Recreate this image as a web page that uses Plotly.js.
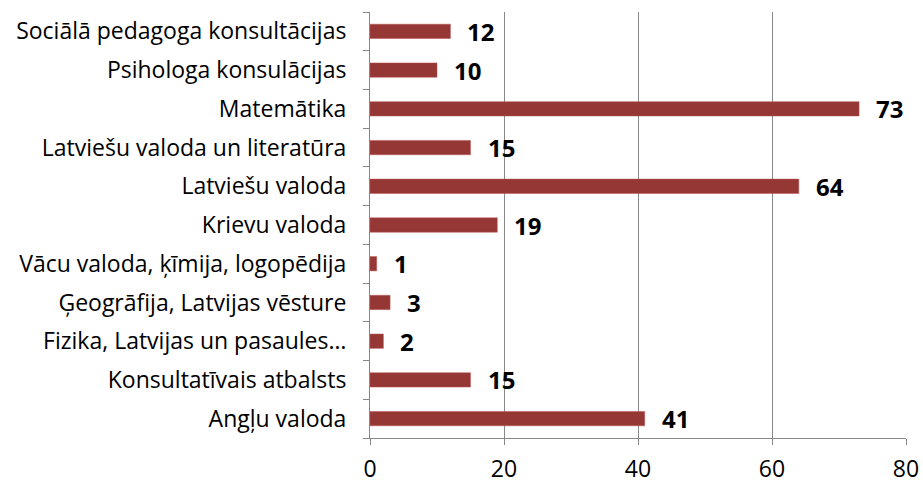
<!DOCTYPE html>
<html><head><meta charset="utf-8">
<script src="https://cdn.plot.ly/plotly-3.0.1.min.js"></script>
<style>body{margin:0;background:#fff}#chart{width:923px;height:484px}</style>
</head><body><div id="chart"></div>
<script>
const categories = ["Angļu valoda","Konsultatīvais atbalsts","Fizika, Latvijas un pasaules…","Ģeogrāfija, Latvijas vēsture","Vācu valoda, ķīmija, logopēdija","Krievu valoda","Latviešu valoda","Latviešu valoda un literatūra","Matemātika","Psihologa konsulācijas","Sociālā pedagoga konsultācijas"];
const values = [41,15,2,3,1,19,64,15,73,10,12];
const xTicks = [0,20,40,60,80];

const font = "'Open Sans', sans-serif";
const trace = {type:'bar', orientation:'h', x:values, y:categories,
  marker:{color:'#953735', line:{color:'#b85450', width:0.5}}, hoverinfo:'none'};
const annotations = categories.map((c,i)=>({x:values[i], y:c, text:String(values[i]), showarrow:false,
  xanchor:'left', xshift:15, yshift:0, font:{family:font, size:24, color:'#000', weight:'bold'}}));
const layout = {
  width:923, height:484, margin:{l:370, r:17, t:12, b:46},
  paper_bgcolor:'#fff', plot_bgcolor:'#fff', showlegend:false, bargap:0.63,
  font:{family:font, color:'#000'},
  xaxis:{range:[0,80], tickvals:xTicks, ticktext:xTicks.map(String), showgrid:true, gridcolor:'#888', gridwidth:1,
    zeroline:false, showline:true, linecolor:'#888', ticks:'outside', ticklen:6, tickcolor:'#888',
    tickfont:{size:23, family:font}, ticklabelstandoff:4, fixedrange:true},
  yaxis:{type:'category', showline:true, linecolor:'#888', ticks:'outside', tickson:'boundaries', ticklen:6, tickcolor:'#888',
    tickfont:{size:23, family:font}, ticklabelstandoff:18, showgrid:false, fixedrange:true},
  annotations:annotations
};
Plotly.newPlot('chart',[trace],layout,{staticPlot:true});
</script></body></html>
